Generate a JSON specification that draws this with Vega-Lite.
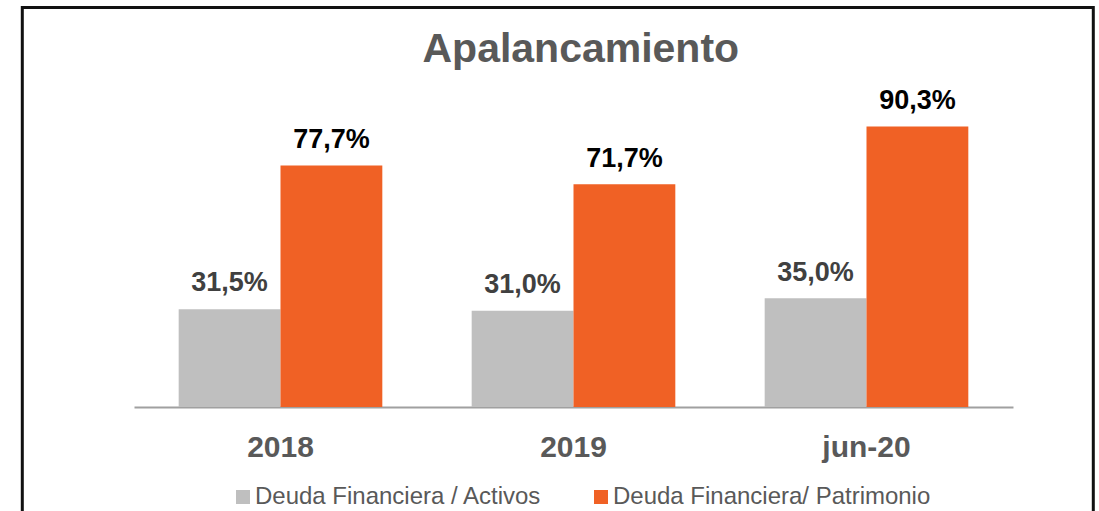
{
  "$schema": "https://vega.github.io/schema/vega-lite/v6.json",
  "autosize": {"type": "none"},
  "width": 1071,
  "height": 530,
  "padding": {"left": 22.3, "top": 7.5, "right": 5, "bottom": 0},
  "background": "white",
  "title": {
    "text": "Apalancamiento",
    "fontSize": 41,
    "fontWeight": "bold",
    "color": "#595959",
    "font": "Liberation Sans",
    "anchor": "middle",
    "frame": "group",
    "baseline": "alphabetic",
    "dx": 23,
    "dy": 39,
    "offset": -56
  },
  "data": {
    "values": [
      {"Periodo": "2018", "Serie": "Deuda Financiera / Activos", "Valor": 0.315},
      {"Periodo": "2018", "Serie": "Deuda Financiera/ Patrimonio", "Valor": 0.777},
      {"Periodo": "2019", "Serie": "Deuda Financiera / Activos", "Valor": 0.310},
      {"Periodo": "2019", "Serie": "Deuda Financiera/ Patrimonio", "Valor": 0.717},
      {"Periodo": "jun-20", "Serie": "Deuda Financiera / Activos", "Valor": 0.350},
      {"Periodo": "jun-20", "Serie": "Deuda Financiera/ Patrimonio", "Valor": 0.903}
    ]
  },
  "encoding": {
    "x": {
      "field": "Periodo",
      "type": "nominal",
      "sort": ["2018", "2019", "jun-20"],
      "scale": {"range": [111.7, 990.7], "paddingInner": 0.305, "paddingOuter": 0.1525},
      "axis": {
        "title": null,
        "orient": "bottom",
        "offset": -130.5,
        "labelAngle": 0,
        "ticks": false,
        "domainColor": "#a0a0a0",
        "domainWidth": 2,
        "labelFontSize": 30,
        "labelFontWeight": "bold",
        "labelColor": "#595959",
        "labelFont": "Liberation Sans",
        "labelPadding": 26
      }
    },
    "xOffset": {
      "field": "Serie",
      "type": "nominal",
      "sort": ["Deuda Financiera / Activos", "Deuda Financiera/ Patrimonio"],
      "scale": {"paddingInner": 0, "paddingOuter": 0}
    },
    "y": {
      "field": "Valor",
      "type": "quantitative",
      "scale": {"domain": [0, 1], "range": [399.5, 88.8], "nice": false, "zero": true},
      "axis": null
    }
  },
  "layer": [
    {
      "mark": {"type": "bar"},
      "encoding": {
        "color": {
          "field": "Serie",
          "type": "nominal",
          "sort": ["Deuda Financiera / Activos", "Deuda Financiera/ Patrimonio"],
          "scale": {"range": ["#bfbfbf", "#f06125"]},
          "legend": {
            "title": null,
            "orient": "none",
            "direction": "horizontal",
            "legendX": 208.7,
            "legendY": 477.5,
            "symbolType": "square",
            "symbolSize": 196,
            "symbolStrokeWidth": 0,
            "symbolOpacity": 1,
            "labelFontSize": 24,
            "labelFont": "Liberation Sans",
            "labelColor": "#595959",
            "labelOffset": 0,
            "columnPadding": 47,
            "labelLimit": 0
          }
        }
      }
    },
    {
      "mark": {
        "type": "text",
        "baseline": "alphabetic",
        "align": "center",
        "dy": -17.7,
        "fontSize": 27,
        "fontWeight": "bold",
        "font": "Liberation Sans"
      },
      "encoding": {
        "text": {"field": "Valor", "type": "quantitative", "format": ".1%"},
        "color": {
          "condition": {"test": "datum.Serie === 'Deuda Financiera/ Patrimonio'", "value": "#000000"},
          "value": "#404040"
        }
      }
    }
  ],
  "config": {
    "locale": {
      "number": {"decimal": ",", "thousands": ".", "grouping": [3], "currency": ["", " €"]}
    },
    "view": {"stroke": "#111111", "strokeWidth": 3},
    "axis": {"grid": false}
  }
}
